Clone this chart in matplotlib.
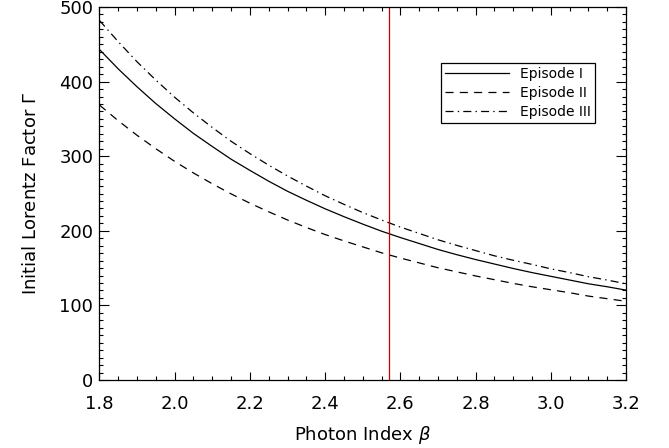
from matplotlib import pyplot as plt
from matplotlib.ticker import MultipleLocator

# photon index grid and Lorentz factor
beta = [1.8, 1.85, 1.9, 1.95, 2.0, 2.05, 2.1, 2.15, 2.2, 2.25, 2.3, 2.35, 2.4, 2.45, 2.5,
        2.55, 2.6, 2.65, 2.7, 2.75, 2.8, 2.85, 2.9, 2.95, 3.0, 3.05, 3.1, 3.15, 3.2]
gamma_ep1 = [443, 417, 393, 370.5, 350, 330.5, 313, 296, 281, 266.5, 253, 241, 229.5, 219, 209,
             199.5, 191, 183, 175, 168, 161.5, 155.5, 149.5, 144, 139, 134, 129, 125, 120.5]
gamma_ep2 = [368.6, 347.5, 328, 310, 293, 277.5, 263, 249.5, 237, 225.5, 214.5, 204.5, 195, 186.5, 178.5,
             170.5, 163.5, 157, 150.5, 145, 139.5, 134.5, 129.5, 125, 121, 117, 112.5, 109, 105.5]
gamma_ep3 = [482, 453.5, 426.5, 402, 379, 358, 338.5, 320, 303.5, 288, 273.5, 260, 247, 235.5, 224.5,
             214.5, 205, 196.5, 188, 180.5, 173.5, 166.5, 160.5, 155, 149, 144, 138.5, 134, 129]
beta_obs = 2.57

plt.rcParams['font.family'] = ['DejaVu Sans']
plt.rcParams['lines.scale_dashes'] = False

fig = plt.figure(figsize=(6.69, 4.48), dpi=100)
ax = fig.add_axes([0.1487, 0.1518, 0.7870, 0.8325])

lw = 0.9
ax.plot(beta, gamma_ep1, color='black', lw=lw, ls='-', label='Episode I')
ax.plot(beta, gamma_ep2, color='black', lw=lw, ls=(0, (5.8, 4.5)), label='Episode II')
ax.plot(beta, gamma_ep3, color='black', lw=lw, ls=(0, (5.8, 3, 1, 3)), label='Episode III')
ax.axvline(beta_obs, color='#c00000', lw=0.9)

ax.set_xlim(1.8, 3.2)
ax.set_ylim(0, 500)
ax.xaxis.set_major_locator(MultipleLocator(0.2))
ax.xaxis.set_minor_locator(MultipleLocator(0.05))
ax.yaxis.set_major_locator(MultipleLocator(100))
ax.yaxis.set_minor_locator(MultipleLocator(10))
ax.xaxis.set_major_formatter(plt.FormatStrFormatter('%.1f'))

ax.tick_params(which='both', direction='in', top=True, right=True, width=0.8, labelsize=13)
ax.tick_params(axis='x', which='major', length=5.8, pad=11)
ax.tick_params(axis='y', which='major', length=7.5, pad=4.5)
ax.tick_params(which='minor', length=3.2)
for s in ax.spines.values():
    s.set_linewidth(0.9)

ax.set_xlabel(r'Photon Index $\beta$', fontsize=13, labelpad=8)
ax.set_ylabel(r'Initial Lorentz Factor $\Gamma$', fontsize=13, labelpad=14)

leg = ax.legend(loc='upper left', bbox_to_anchor=(0.648, 0.850), borderaxespad=0,
                fontsize=10, handlelength=4.6, handletextpad=0.8, labelspacing=0.35,
                borderpad=0.3, fancybox=False, framealpha=1, edgecolor='black')
leg.get_frame().set_linewidth(0.9)

fig.savefig('out.png', dpi=100)
